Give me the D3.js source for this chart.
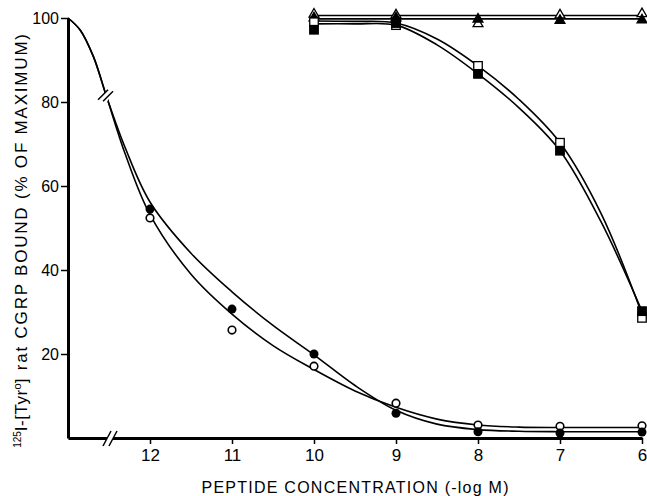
<!DOCTYPE html>
<html><head><meta charset="utf-8">
<script src="https://cdn.jsdelivr.net/npm/d3@7"></script>
<style>
html,body{margin:0;padding:0;background:#fff;}
svg{display:block;}
.tick text{font-family:"Liberation Sans Narrow","Liberation Sans",Arial,sans-serif;}
</style></head>
<body>
<svg id="chart" width="647" height="496"></svg>
<script>
// ---- data ----
const xTicks = [12, 11, 10, 9, 8, 7, 6];
const yTicks = [20, 40, 60, 80, 100];
const concFilledCircle = [12, 11, 10, 9, 8, 7, 6];
const valFilledCircle  = [54.5, 30.7, 20.0, 5.9, 1.5, 1.2, 1.4];
const concOpenCircle   = [12, 11, 10, 9, 8, 7, 6];
const valOpenCircle    = [52.4, 25.7, 17.1, 8.3, 3.1, 2.8, 2.9];
const concSquare = [10, 9, 8, 7, 6];
const valFilledSquare = [97.2, 98.8, 86.7, 68.4, 30.2];
const valOpenSquare   = [99.0, 98.3, 88.6, 70.3, 28.6];
const concTriangle = [10, 9, 8, 7, 6];
const valFilledTriangle = [100.0, 100.0, 99.7, 99.4, 99.5];
const valOpenTriangle   = [100.9, 100.7, 98.6, 100.7, 101.0];
// fitted curves
const fitCircleAx = [13, 12.85, 12.69, 12.53, 12.3, 12, 11.5, 11, 10.5, 10, 9.5, 9, 8.5, 8, 7.5, 7, 6];
const fitCircleAy = [100, 97.1, 90.8, 81.3, 69.0, 56.2, 44.0, 34.8, 26.8, 19.8, 12.5, 6.6, 3.3, 2.0, 1.6, 1.5, 1.5];
const fitCircleBx = [13, 12.85, 12.69, 12.53, 12.3, 12, 11.5, 11, 10.5, 10, 9.5, 9, 8.5, 8, 7.5, 7, 6];
const fitCircleBy = [100, 97.1, 90.8, 81.3, 67.5, 53.2, 39.0, 29.5, 22.0, 16.3, 11.2, 7.3, 4.5, 3.1, 2.6, 2.5, 2.5];
const fitSqOpenX = [10, 9.5, 9, 8.5, 8, 7.5, 7, 6.5, 6];
const fitSqOpenY = [99.3, 99.2, 98.8, 95.0, 88.6, 80.6, 70.3, 53.5, 29.5];
const fitSqFillX = [10, 9.5, 9, 8.5, 8, 7.5, 7, 6.5, 6];
const fitSqFillY = [98.6, 98.6, 98.3, 93.6, 86.7, 78.6, 68.4, 51.5, 30.2];
const fitTriOpenX = [10, 6];
const fitTriOpenY = [100.6, 100.6];
const fitTriFillX = [10, 6];
const fitTriFillY = [99.8, 99.8];

const xLabel = "PEPTIDE CONCENTRATION (-log M)";

// ---- drawing ----
const svg = d3.select("#chart");
const x = d3.scaleLinear().domain([13, 6]).range([68, 642]);
const y = d3.scaleLinear().domain([0, 100]).range([438, 18]);

const line = d3.line().x(d => x(d[0])).y(d => y(d[1])).curve(d3.curveCatmullRom.alpha(0.5));
function pairs(xs, ys){ return xs.map((v,i)=>[v, ys[i]]); }

const curves = [
  pairs(fitCircleAx, fitCircleAy), pairs(fitCircleBx, fitCircleBy),
  pairs(fitSqOpenX, fitSqOpenY), pairs(fitSqFillX, fitSqFillY),
  pairs(fitTriOpenX, fitTriOpenY), pairs(fitTriFillX, fitTriFillY)
];
svg.append("g").selectAll("path").data(curves).join("path")
  .attr("d", line).attr("fill", "none").attr("stroke", "#000").attr("stroke-width", 1.6);

// break on the curve
const bx = x(12.53), by = y(81.3);
svg.append("rect").attr("x", bx-5).attr("y", by-3).attr("width", 10).attr("height", 6)
  .attr("fill", "#fff").attr("transform", `rotate(-62,${bx},${by})`);
[-2.5, 2.5].forEach(o => {
  svg.append("line").attr("x1", bx-6+o).attr("y1", by+4+o*0.3).attr("x2", bx+4+o).attr("y2", by-6+o*0.3)
    .attr("stroke", "#000").attr("stroke-width", 1.5);
});

// axes
const yAxis = d3.axisLeft(y).tickValues(yTicks).tickSize(7).tickSizeOuter(0).tickPadding(2).tickFormat(d3.format("d"));
const gy = svg.append("g").attr("transform", "translate(68,0)").call(yAxis);
gy.select(".domain").attr("stroke-width", 3);
gy.selectAll(".tick line").attr("stroke-width", 1.5);
gy.selectAll(".tick text").attr("font-size", 16).attr("fill", "#000");

const xAxis = d3.axisBottom(x).tickValues(xTicks).tickSize(6).tickSizeOuter(0).tickPadding(5).tickFormat(d3.format("d"));
const gx = svg.append("g").attr("transform", "translate(0,438)").call(xAxis);
gx.select(".domain").attr("stroke-width", 3);
gx.selectAll(".tick line").attr("stroke-width", 1.5);
gx.selectAll(".tick text").attr("font-size", 17).attr("fill", "#000");

// axis break on x
const ax = 110, ay = 438;
svg.append("rect").attr("x", ax-3).attr("y", ay-3).attr("width", 6).attr("height", 6).attr("fill", "#fff");
[-3, 3].forEach(o => {
  svg.append("line").attr("x1", ax+o-4).attr("y1", ay+8).attr("x2", ax+o+4).attr("y2", ay-7)
    .attr("stroke", "#000").attr("stroke-width", 1.5);
});

// markers
const r = 4.5;
function circles(xs, ys, filled){
  svg.append("g").selectAll("circle").data(pairs(xs, ys)).join("circle")
    .attr("cx", d => x(d[0])).attr("cy", d => y(d[1])).attr("r", filled ? r : r-0.7)
    .attr("fill", filled ? "#000" : "#fff").attr("stroke", "#000").attr("stroke-width", filled ? 0 : 1.6);
}
function squares(xs, ys, filled){
  const s = 8.5;
  svg.append("g").selectAll("rect").data(pairs(xs, ys)).join("rect")
    .attr("x", d => x(d[0]) - s/2).attr("y", d => y(d[1]) - s/2).attr("width", s).attr("height", s)
    .attr("fill", filled ? "#000" : "#fff").attr("stroke", "#000").attr("stroke-width", 1.3);
}
const tri = d3.symbol().type(d3.symbolTriangle).size(42);
function triangles(xs, ys, filled){
  svg.append("g").selectAll("path").data(pairs(xs, ys)).join("path")
    .attr("d", tri).attr("transform", d => `translate(${x(d[0])},${y(d[1])})`)
    .attr("fill", filled ? "#000" : "#fff").attr("stroke", "#000").attr("stroke-width", 1.3);
}
circles(concOpenCircle, valOpenCircle, false);
circles(concFilledCircle, valFilledCircle, true);
triangles(concTriangle, valOpenTriangle, false);
triangles(concTriangle, valFilledTriangle, true);
squares(concSquare, valOpenSquare, false);
squares(concSquare, valFilledSquare, true);

// titles
svg.append("text").attr("x", 355).attr("y", 493).attr("text-anchor", "middle")
  .attr("font-family", "'Liberation Sans',Arial,sans-serif").attr("font-size", 16)
  .attr("textLength", 307).attr("lengthAdjust", "spacing")
  .text(xLabel);

const yt = svg.append("text").attr("transform", "translate(27,240) rotate(-90)")
  .attr("text-anchor", "middle").attr("font-family", "'Liberation Sans',Arial,sans-serif")
  .attr("font-size", 17);
yt.append("tspan").attr("font-size", 10).attr("dy", -6).text("125");
yt.append("tspan").attr("dy", 6).attr("letter-spacing", 0.5).text("I-[Tyr");
yt.append("tspan").attr("font-size", 11).attr("dy", -6).text("o");
yt.append("tspan").attr("dy", 6).attr("letter-spacing", 1.8).text("] rat  CGRP  BOUND   (% OF MAXIMUM)");
</script>
</body></html>
